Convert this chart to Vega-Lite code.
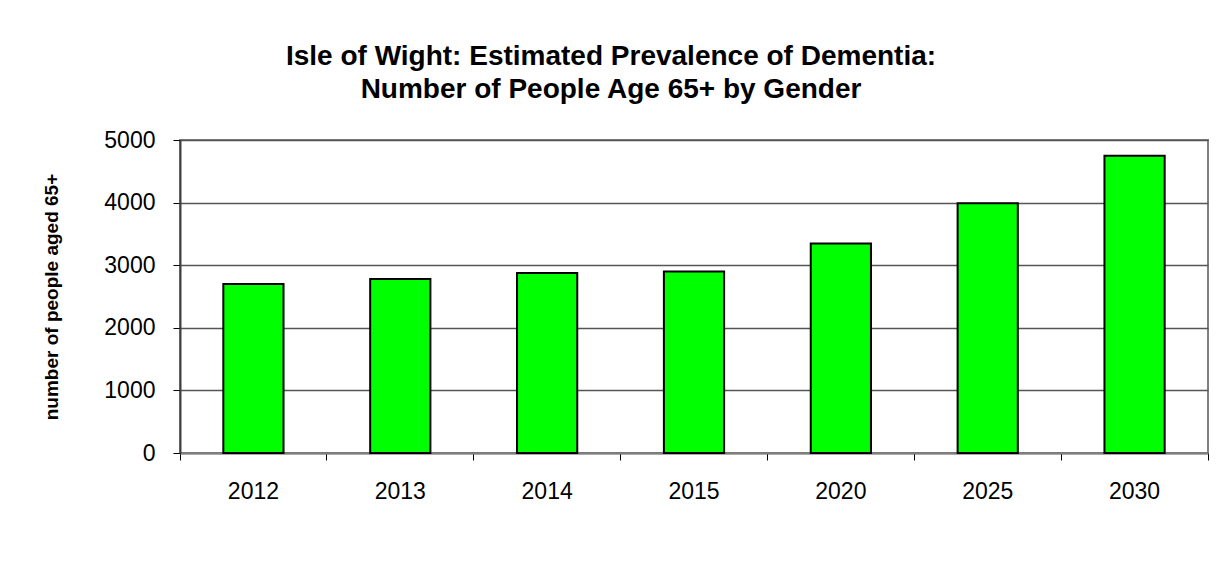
{
  "$schema": "https://vega.github.io/schema/vega-lite/v6.json",
  "width": 1028,
  "height": 313,
  "autosize": {"type": "none"},
  "padding": {"left": 180, "top": 140, "right": 20, "bottom": 121},
  "background": "white",
  "title": {
    "text": ["Isle of Wight: Estimated Prevalence of Dementia:", "Number of People Age 65+ by Gender"],
    "font": "Liberation Sans",
    "fontSize": 28,
    "fontWeight": "bold",
    "color": "black",
    "anchor": "middle",
    "lineHeight": 33,
    "offset": 25,
    "dx": -83
  },
  "data": {
    "values": [
      {"year": "2012", "people": 2700},
      {"year": "2013", "people": 2780},
      {"year": "2014", "people": 2875},
      {"year": "2015", "people": 2900},
      {"year": "2020", "people": 3345},
      {"year": "2025", "people": 3990},
      {"year": "2030", "people": 4750}
    ]
  },
  "mark": {"type": "bar", "fill": "#00FF00", "stroke": "black", "strokeWidth": 2, "width": {"band": 0.41}},
  "encoding": {
    "x": {
      "field": "year",
      "type": "nominal",
      "sort": null,
      "scale": {"paddingInner": 0, "paddingOuter": 0},
      "axis": {
        "title": null,
        "labelAngle": 0,
        "labelFont": "Liberation Sans",
        "labelFontSize": 23,
        "labelColor": "black",
        "labelPadding": 20,
        "bandPosition": 1,
        "tickExtra": true,
        "tickSize": 7,
        "tickColor": "black",
        "domainColor": "#808080",
        "domainWidth": 2
      }
    },
    "y": {
      "field": "people",
      "type": "quantitative",
      "scale": {"domain": [0, 5000]},
      "axis": {
        "title": "number of people aged 65+",
        "titleFont": "Liberation Sans",
        "titleFontSize": 19,
        "titleFontWeight": "bold",
        "titleColor": "black",
        "titlePadding": 42,
        "values": [0, 1000, 2000, 3000, 4000, 5000],
        "format": "d",
        "labelFont": "Liberation Sans",
        "labelFontSize": 23,
        "labelColor": "black",
        "labelPadding": 18,
        "tickSize": 7,
        "tickColor": "black",
        "domainColor": "#404040",
        "domainWidth": 2,
        "gridColor": "#555555",
        "gridWidth": 1.5
      }
    }
  },
  "config": {
    "view": {"stroke": "#808080", "strokeWidth": 2}
  }
}
